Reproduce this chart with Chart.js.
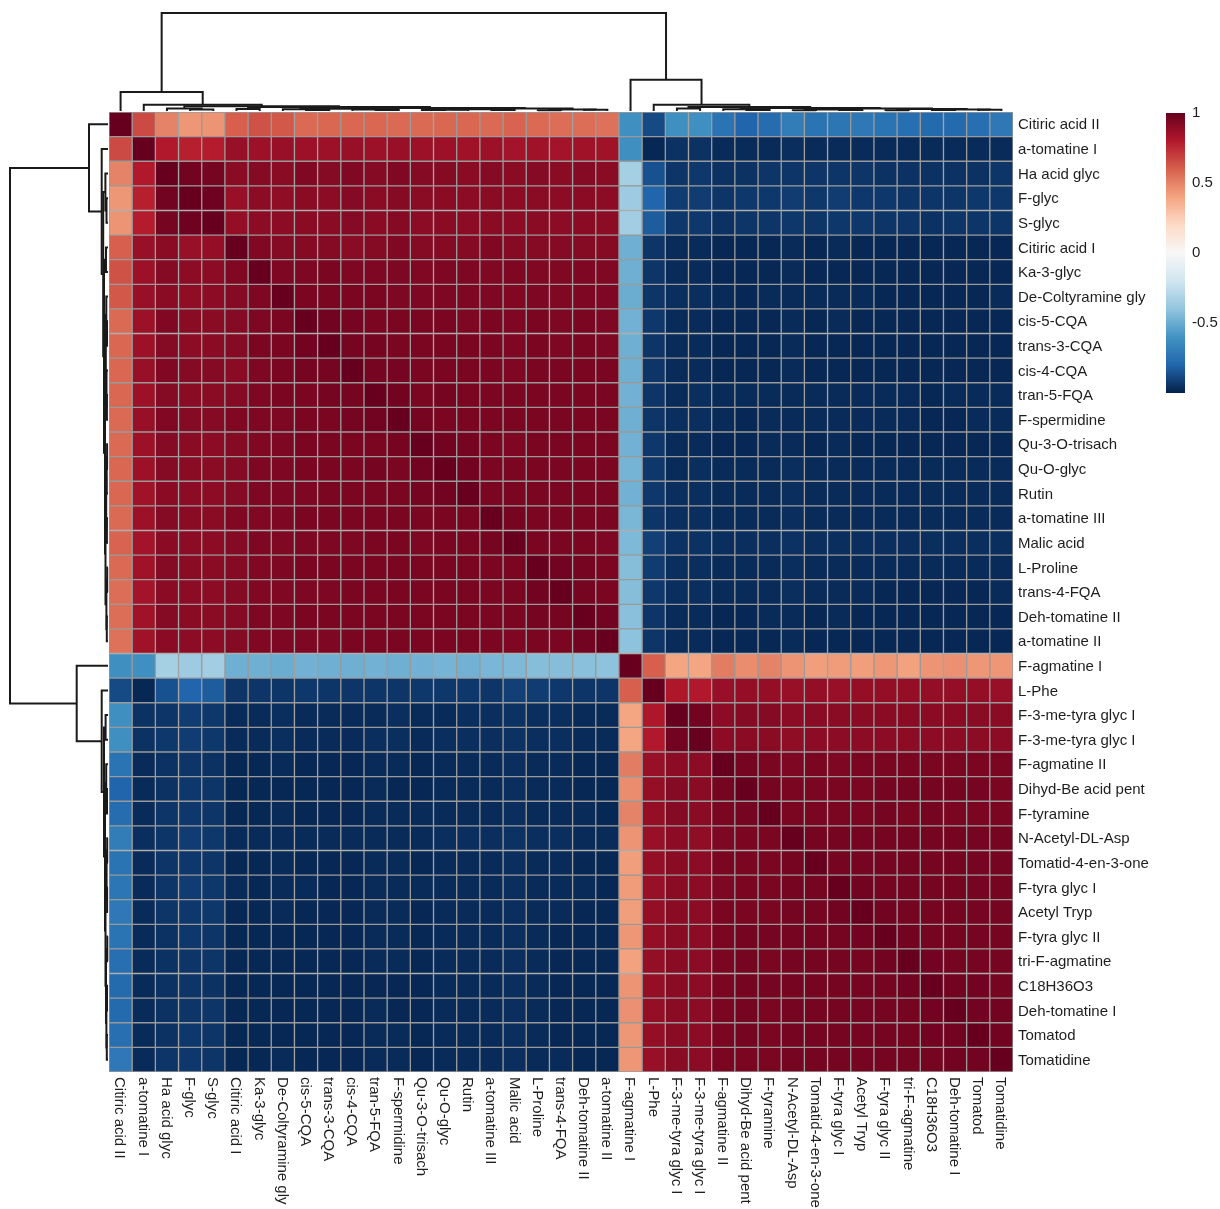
<!DOCTYPE html>
<html>
<head>
<meta charset="utf-8">
<script src="https://cdn.jsdelivr.net/npm/chart.js@4.4.1/dist/chart.umd.min.js"></script>
<style>
  html, body { margin: 0; padding: 0; background: #ffffff; }
  #wrap { position: relative; width: 1220px; height: 1209px; }
</style>
</head>
<body>
<div id="wrap"><canvas id="heatmap" width="1220" height="1209"></canvas></div>
<script>
// Metabolite names in clustered order (rows and columns share the same order)
const featureNames = [
  'Citiric acid II', 'a-tomatine I', 'Ha acid glyc', 'F-glyc', 'S-glyc',
  'Citiric acid I', 'Ka-3-glyc', 'De-Coltyramine gly', 'cis-5-CQA', 'trans-3-CQA',
  'cis-4-CQA', 'tran-5-FQA', 'F-spermidine', 'Qu-3-O-trisach', 'Qu-O-glyc',
  'Rutin', 'a-tomatine III', 'Malic acid', 'L-Proline', 'trans-4-FQA',
  'Deh-tomatine II', 'a-tomatine II', 'F-agmatine I', 'L-Phe', 'F-3-me-tyra glyc I',
  'F-3-me-tyra glyc I', 'F-agmatine II', 'Dihyd-Be acid pent', 'F-tyramine', 'N-Acetyl-DL-Asp',
  'Tomatid-4-en-3-one', 'F-tyra glyc I', 'Acetyl Tryp', 'F-tyra glyc II', 'tri-F-agmatine',
  'C18H36O3', 'Deh-tomatine I', 'Tomatod', 'Tomatidine'
];

// Pearson correlations, lower triangle (row i holds columns 0..i)
const corrLower = [
  [1],
  [0.66,1],
  [0.50,0.80,1],
  [0.44,0.78,0.97,1],
  [0.45,0.79,0.96,0.98,1],
  [0.60,0.87,0.91,0.87,0.88,1],
  [0.64,0.86,0.92,0.90,0.90,0.93,1],
  [0.62,0.87,0.91,0.89,0.90,0.92,0.94,1],
  [0.57,0.86,0.93,0.91,0.91,0.92,0.94,0.95,1],
  [0.58,0.86,0.92,0.90,0.91,0.92,0.95,0.95,0.97,1],
  [0.58,0.87,0.93,0.92,0.92,0.91,0.94,0.95,0.96,0.96,1],
  [0.58,0.86,0.92,0.91,0.91,0.92,0.94,0.95,0.95,0.96,0.96,1],
  [0.57,0.87,0.93,0.92,0.92,0.93,0.94,0.94,0.95,0.95,0.96,0.97,1],
  [0.57,0.86,0.92,0.91,0.90,0.92,0.93,0.94,0.95,0.95,0.95,0.95,0.96,1],
  [0.58,0.86,0.92,0.91,0.91,0.92,0.94,0.94,0.95,0.95,0.95,0.96,0.95,0.97,1],
  [0.58,0.85,0.91,0.90,0.90,0.92,0.94,0.94,0.94,0.95,0.95,0.95,0.95,0.96,0.97,1],
  [0.57,0.86,0.92,0.91,0.91,0.93,0.93,0.94,0.95,0.95,0.95,0.95,0.95,0.95,0.95,0.95,1],
  [0.59,0.84,0.91,0.90,0.90,0.92,0.94,0.93,0.94,0.94,0.94,0.95,0.95,0.94,0.95,0.95,0.96,1],
  [0.57,0.85,0.92,0.91,0.91,0.92,0.93,0.94,0.95,0.95,0.95,0.95,0.95,0.95,0.95,0.95,0.95,0.95,1],
  [0.56,0.84,0.91,0.90,0.90,0.92,0.93,0.93,0.94,0.94,0.95,0.95,0.95,0.95,0.95,0.95,0.95,0.95,0.97,1],
  [0.56,0.85,0.92,0.91,0.91,0.92,0.94,0.94,0.95,0.95,0.95,0.95,0.95,0.95,0.95,0.95,0.95,0.95,0.96,0.96,1],
  [0.55,0.85,0.91,0.90,0.90,0.92,0.93,0.94,0.94,0.94,0.95,0.95,0.95,0.95,0.95,0.95,0.95,0.94,0.95,0.95,0.97,1],
  [-0.62,-0.62,-0.34,-0.36,-0.35,-0.49,-0.49,-0.50,-0.48,-0.49,-0.49,-0.48,-0.49,-0.48,-0.47,-0.48,-0.46,-0.45,-0.43,-0.43,-0.42,-0.41,1],
  [-0.88,-0.98,-0.86,-0.80,-0.83,-0.94,-0.94,-0.94,-0.93,-0.94,-0.94,-0.94,-0.94,-0.93,-0.93,-0.93,-0.94,-0.91,-0.92,-0.93,-0.94,-0.94,0.60,1],
  [-0.62,-0.95,-0.94,-0.92,-0.93,-0.97,-0.97,-0.96,-0.97,-0.97,-0.97,-0.97,-0.96,-0.97,-0.97,-0.96,-0.96,-0.95,-0.96,-0.96,-0.97,-0.97,0.40,0.81,1],
  [-0.62,-0.95,-0.93,-0.92,-0.93,-0.97,-0.97,-0.96,-0.97,-0.97,-0.97,-0.96,-0.96,-0.97,-0.96,-0.96,-0.96,-0.95,-0.96,-0.96,-0.97,-0.97,0.40,0.80,0.97,1],
  [-0.74,-0.97,-0.95,-0.94,-0.95,-0.98,-0.98,-0.97,-0.98,-0.98,-0.98,-0.97,-0.97,-0.98,-0.97,-0.97,-0.97,-0.96,-0.97,-0.97,-0.98,-0.98,0.52,0.87,0.90,0.90,1],
  [-0.80,-0.97,-0.95,-0.93,-0.94,-0.98,-0.98,-0.98,-0.98,-0.98,-0.98,-0.97,-0.98,-0.98,-0.97,-0.97,-0.97,-0.96,-0.97,-0.97,-0.98,-0.98,0.47,0.88,0.92,0.91,0.96,1],
  [-0.77,-0.97,-0.94,-0.93,-0.94,-0.98,-0.98,-0.97,-0.98,-0.98,-0.98,-0.97,-0.97,-0.97,-0.97,-0.97,-0.97,-0.96,-0.97,-0.97,-0.97,-0.98,0.50,0.88,0.92,0.91,0.95,0.96,1],
  [-0.70,-0.96,-0.94,-0.92,-0.93,-0.97,-0.97,-0.97,-0.97,-0.97,-0.97,-0.97,-0.97,-0.97,-0.96,-0.96,-0.96,-0.95,-0.96,-0.96,-0.97,-0.97,0.45,0.87,0.90,0.89,0.94,0.95,0.95,1],
  [-0.74,-0.97,-0.94,-0.93,-0.94,-0.98,-0.98,-0.97,-0.98,-0.98,-0.98,-0.97,-0.97,-0.98,-0.97,-0.97,-0.97,-0.96,-0.97,-0.97,-0.98,-0.98,0.42,0.88,0.91,0.90,0.95,0.95,0.95,0.96,1],
  [-0.73,-0.97,-0.94,-0.92,-0.93,-0.97,-0.98,-0.97,-0.97,-0.98,-0.98,-0.97,-0.97,-0.97,-0.97,-0.97,-0.97,-0.96,-0.97,-0.97,-0.97,-0.98,0.43,0.87,0.91,0.90,0.94,0.95,0.95,0.96,0.96,1],
  [-0.72,-0.97,-0.94,-0.93,-0.93,-0.98,-0.98,-0.97,-0.98,-0.98,-0.98,-0.97,-0.97,-0.98,-0.97,-0.97,-0.97,-0.96,-0.97,-0.97,-0.98,-0.98,0.42,0.88,0.91,0.90,0.95,0.95,0.95,0.96,0.96,0.97,1],
  [-0.74,-0.97,-0.95,-0.93,-0.94,-0.98,-0.98,-0.98,-0.98,-0.98,-0.98,-0.97,-0.97,-0.98,-0.97,-0.97,-0.97,-0.96,-0.97,-0.98,-0.98,-0.98,0.44,0.88,0.91,0.90,0.95,0.96,0.96,0.96,0.96,0.96,0.97,1],
  [-0.76,-0.97,-0.95,-0.94,-0.94,-0.98,-0.98,-0.98,-0.98,-0.98,-0.98,-0.97,-0.97,-0.98,-0.97,-0.97,-0.97,-0.96,-0.97,-0.98,-0.98,-0.98,0.41,0.88,0.91,0.90,0.95,0.96,0.95,0.96,0.96,0.96,0.96,0.97,1],
  [-0.78,-0.97,-0.95,-0.94,-0.95,-0.98,-0.98,-0.98,-0.98,-0.98,-0.98,-0.98,-0.98,-0.98,-0.97,-0.97,-0.97,-0.96,-0.97,-0.98,-0.98,-0.98,0.45,0.88,0.91,0.90,0.95,0.96,0.96,0.96,0.96,0.96,0.96,0.96,0.97,1],
  [-0.78,-0.97,-0.95,-0.94,-0.94,-0.98,-0.98,-0.98,-0.98,-0.98,-0.98,-0.97,-0.98,-0.98,-0.97,-0.97,-0.97,-0.96,-0.97,-0.98,-0.98,-0.98,0.46,0.88,0.91,0.90,0.95,0.96,0.95,0.96,0.96,0.96,0.96,0.96,0.96,0.97,1],
  [-0.76,-0.97,-0.95,-0.93,-0.94,-0.98,-0.98,-0.98,-0.98,-0.98,-0.98,-0.97,-0.97,-0.98,-0.97,-0.97,-0.97,-0.96,-0.97,-0.98,-0.98,-0.98,0.44,0.88,0.91,0.90,0.95,0.96,0.95,0.96,0.96,0.96,0.96,0.96,0.96,0.97,0.97,1],
  [-0.72,-0.97,-0.94,-0.93,-0.94,-0.98,-0.98,-0.97,-0.98,-0.98,-0.98,-0.97,-0.97,-0.98,-0.97,-0.97,-0.97,-0.96,-0.97,-0.97,-0.98,-0.98,0.44,0.87,0.91,0.90,0.95,0.95,0.95,0.96,0.96,0.96,0.96,0.96,0.96,0.96,0.97,0.97,1]
];

// Hierarchical clustering merges: [left, right, height]; negative = leaf number, positive = earlier merge
const clusterMerges = [
  [-4, -5, 1.5], [-3, 1, 2.6], [-6, -7, 2.0], [-9, -10, 1.0], [-8, 4, 1.7],
  [-12, -13, 1.1], [-11, 6, 1.5], [5, 7, 2.2], [-14, -15, 0.9], [9, -16, 1.3],
  [-17, -18, 1.1], [10, 11, 1.8], [-19, -20, 0.8], [-21, -22, 1.2], [13, 14, 1.6],
  [12, 15, 2.5], [8, 16, 3.0], [3, 17, 4.0], [2, 18, 4.8], [-2, 19, 6.3],
  [-1, 20, 19.0],
  [-25, -26, 2.4], [-28, -29, 1.0], [-27, 23, 1.8], [-30, -31, 0.8], [-32, -33, 0.9],
  [25, 26, 1.4], [-34, -35, 0.7], [-36, -37, 1.0], [-38, -39, 1.2], [29, 30, 1.6],
  [28, 31, 2.0], [27, 32, 2.5], [24, 33, 3.0], [22, 34, 4.0], [-24, 35, 6.3],
  [-23, 36, 31.3],
  [21, 37, 98.0]
];

// Colour key
const keyRange = [-1, 1];
const keyTicks = [1, 0.5, 0, -0.5];
const keyPalette = ['#04204A', '#2166AC', '#4393C3', '#92C5DE', '#D1E5F0', '#F7F7F7',
                    '#FDDBC7', '#F4A582', '#D6604D', '#B2182B', '#67001F'];

const corr = (i, j) => (j <= i ? corrLower[i][j] : corrLower[j][i]);

function hexToRgb(h) {
  const n = parseInt(h.slice(1), 16);
  return [(n >> 16) & 255, (n >> 8) & 255, n & 255];
}
const paletteRgb = keyPalette.map(hexToRgb);

function colorFor(v) {
  const t = Math.max(0, Math.min(1, (v - keyRange[0]) / (keyRange[1] - keyRange[0])));
  const s = t * (paletteRgb.length - 1);
  const k = Math.min(paletteRgb.length - 2, Math.floor(s));
  const f = s - k;
  const a = paletteRgb[k], b = paletteRgb[k + 1];
  const c = a.map((x, q) => Math.round(x + (b[q] - x) * f));
  return `rgb(${c[0]},${c[1]},${c[2]})`;
}

const LABEL_FONT = '15px "Liberation Sans", Arial, sans-serif';
const TEXT_COLOR = '#1e1e1e';
const TREE_PX = 98;

function drawDendrogram(ctx, leafPos, toXY) {
  const rootH = clusterMerges[clusterMerges.length - 1][2];
  const scale = TREE_PX / rootH;
  const pos = [], hts = [];
  const node = id => (id < 0 ? [leafPos(-id - 1), 0] : [pos[id - 1], hts[id - 1]]);
  ctx.save();
  ctx.strokeStyle = '#1a1a1a';
  ctx.lineWidth = 2;
  ctx.lineJoin = 'miter';
  ctx.lineCap = 'butt';
  clusterMerges.forEach(([a, b, h], k) => {
    const [pa, ha] = node(a);
    const [pb, hb] = node(b);
    ctx.beginPath();
    ctx.moveTo(...toXY(pa, ha * scale));
    ctx.lineTo(...toXY(pa, h * scale));
    ctx.lineTo(...toXY(pb, h * scale));
    ctx.lineTo(...toXY(pb, hb * scale));
    ctx.stroke();
    pos[k] = (pa + pb) / 2;
    hts[k] = h;
  });
  ctx.restore();
}

const heatmapDecor = {
  id: 'heatmapDecor',
  afterDraw(chart) {
    const { ctx, chartArea: area, scales: { x, y } } = chart;
    const colX = j => x.getPixelForValue(j + 0.5);
    const rowY = i => y.getPixelForValue(i);

    // column dendrogram (above) and row dendrogram (left)
    drawDendrogram(ctx, colX, (p, h) => [p, area.top - 1 - h]);
    drawDendrogram(ctx, rowY, (p, h) => [area.left - 1 - h, p]);

    ctx.save();
    ctx.fillStyle = TEXT_COLOR;
    ctx.font = LABEL_FONT;

    // row labels
    ctx.textAlign = 'left';
    ctx.textBaseline = 'middle';
    featureNames.forEach((name, i) => ctx.fillText(name, area.right + 5, rowY(i) + 1));

    // column labels, rotated clockwise
    featureNames.forEach((name, j) => {
      ctx.save();
      ctx.translate(colX(j) - 1, area.bottom + 5);
      ctx.rotate(Math.PI / 2);
      ctx.textAlign = 'left';
      ctx.textBaseline = 'middle';
      ctx.fillText(name, 0, 0);
      ctx.restore();
    });

    // colour key
    const kx = 1166, kw = 19, ktop = 113, kh = 280;
    const grad = ctx.createLinearGradient(0, ktop + kh, 0, ktop);
    keyPalette.forEach((c, q) => grad.addColorStop(q / (keyPalette.length - 1), c));
    ctx.fillStyle = grad;
    ctx.fillRect(kx, ktop, kw, kh);
    ctx.fillStyle = TEXT_COLOR;
    ctx.textAlign = 'left';
    ctx.textBaseline = 'middle';
    keyTicks.forEach(v => {
      const ty = ktop + (keyRange[1] - v) / (keyRange[1] - keyRange[0]) * kh;
      ctx.fillText(String(v), kx + 26, ty);
    });
    ctx.restore();
  }
};

// one stacked dataset per column; each cell is a unit-wide bar coloured by its correlation
const datasets = featureNames.map((colName, j) => ({
  label: colName,
  data: featureNames.map((rowName, i) => ({ x: 1, y: i, r: corr(i, j) })),
  backgroundColor: c => colorFor(c.raw.r),
  borderColor: '#9a9a9a',
  borderWidth: 1,
  borderSkipped: false,
  categoryPercentage: 1,
  barPercentage: 1
}));

new Chart(document.getElementById('heatmap').getContext('2d'), {
  type: 'bar',
  data: { labels: featureNames.map((n, i) => i), datasets },
  options: {
    indexAxis: 'y',
    responsive: false,
    animation: false,
    devicePixelRatio: 1,
    layout: { padding: { left: 109, right: 207, top: 112, bottom: 137 } },
    scales: {
      x: { type: 'linear', stacked: true, min: 0, max: 39, display: false },
      y: { type: 'category', stacked: true, offset: true, display: false }
    },
    plugins: { legend: { display: false }, tooltip: { enabled: false } }
  },
  plugins: [heatmapDecor]
});
</script>
</body>
</html>
